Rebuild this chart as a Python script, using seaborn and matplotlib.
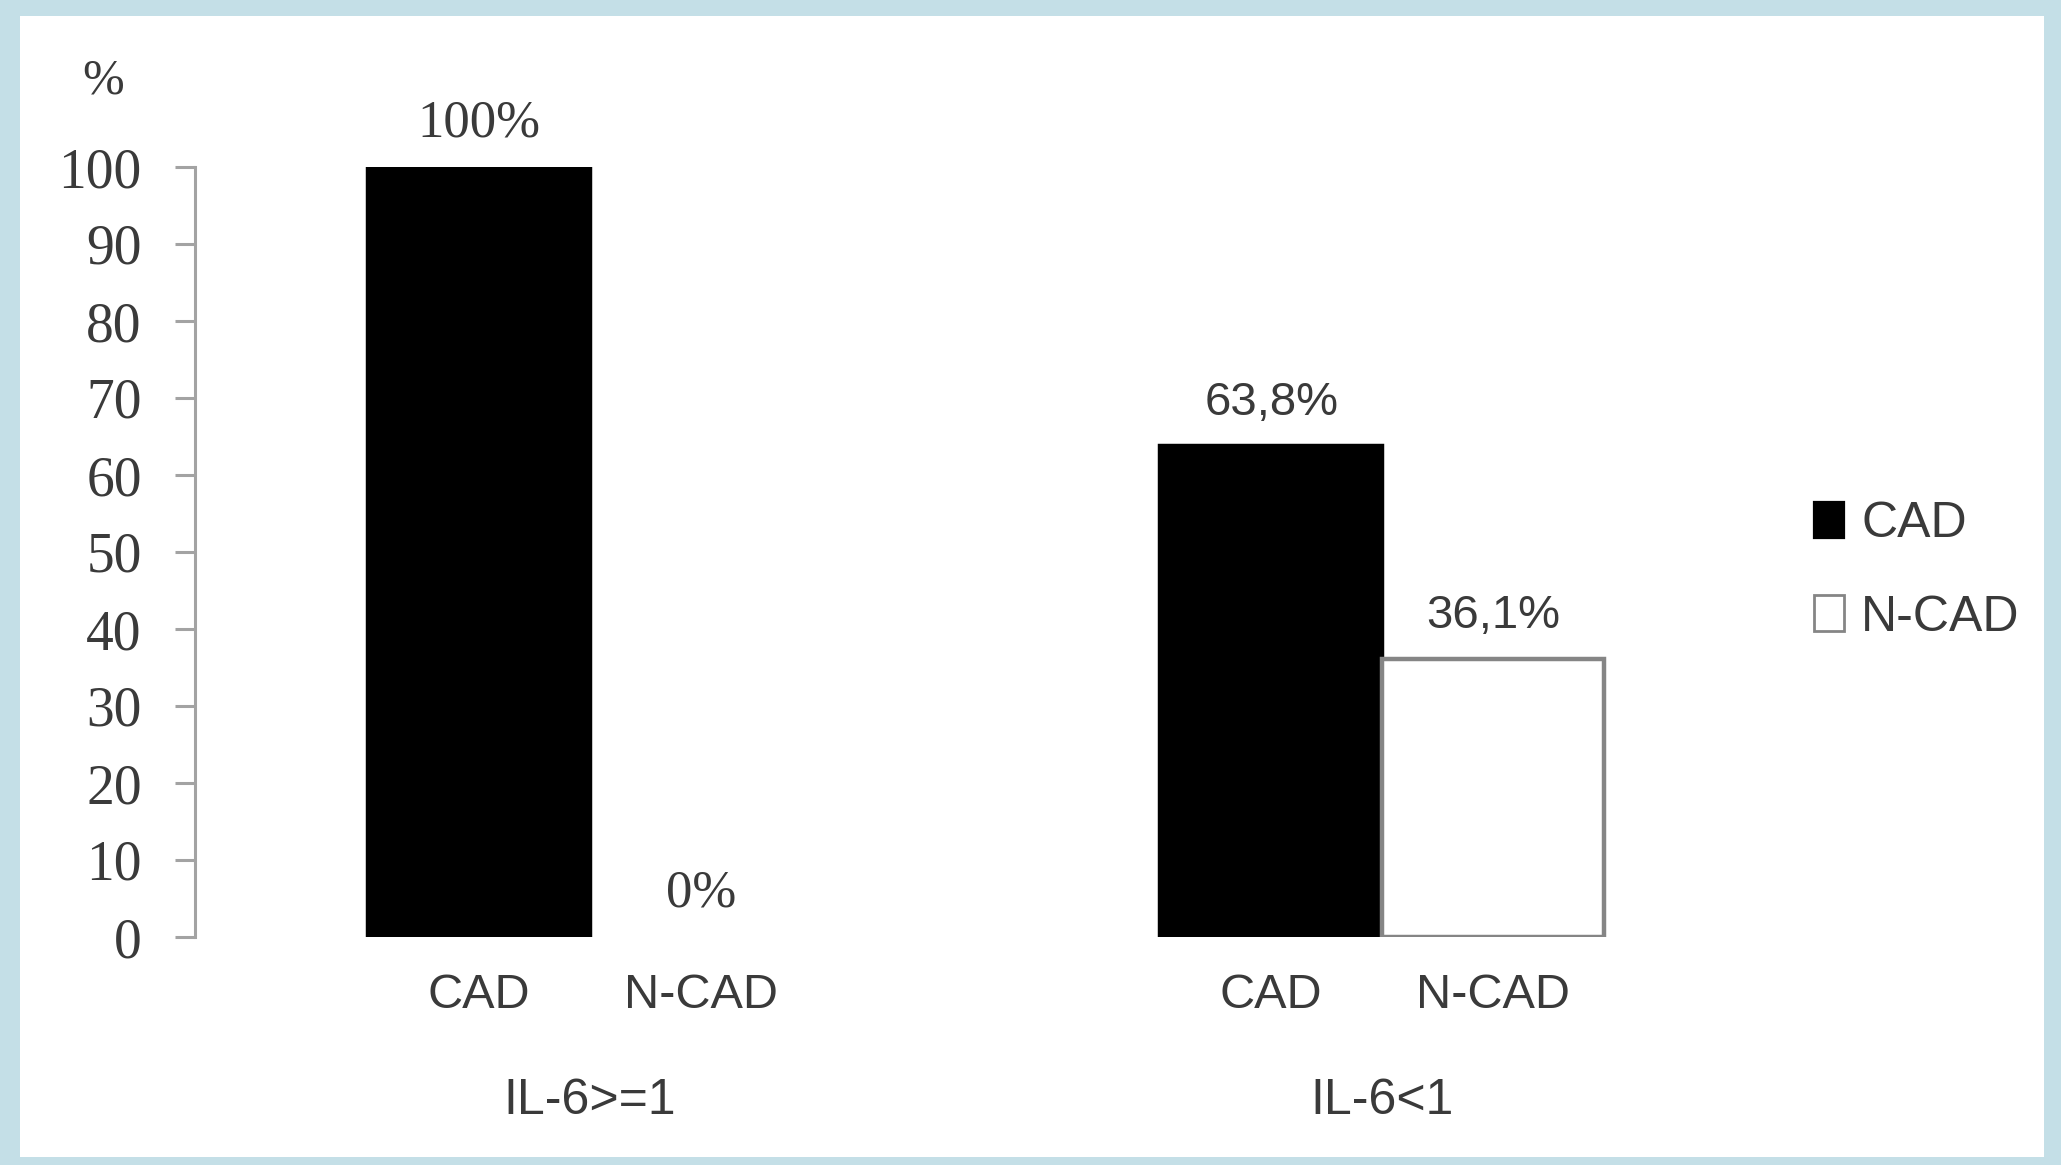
import matplotlib
matplotlib.use("Agg")
import matplotlib.pyplot as plt
from matplotlib.patches import Patch, Rectangle
import seaborn as sns
import pandas as pd

# Share of CAD / N-CAD patients in each IL-6 group (%)
groups = ["IL-6>=1", "IL-6<1"]
subgroups = ["CAD", "N-CAD"]
cad_pct = [100, 63.8]
ncad_pct = [0, 36.1]
y_ticks = [0, 10, 20, 30, 40, 50, 60, 70, 80, 90, 100]

df = pd.DataFrame({
    "group": groups * 2,
    "status": [subgroups[0]] * len(groups) + [subgroups[1]] * len(groups),
    "pct": cad_pct + ncad_pct,
})

sns.set_theme(style="white")
SERIF = ["Liberation Serif", "DejaVu Serif"]
SANS = ["Liberation Sans", "DejaVu Sans"]
TEXT = "#3a3a3a"
GRAY = "#858585"
AXIS_GRAY = "#a3a3a3"
BORDER = "#c4dfe7"

W, H, DPI = 2061, 1165, 200
fig = plt.figure(figsize=(W / DPI, H / DPI), dpi=DPI)
fig.patch.set_facecolor(BORDER)
# white panel inside the light-blue frame
fig.patches.append(Rectangle((20 / W, 1 - 1157 / H), (2044 - 20) / W, (1157 - 16) / H,
                             transform=fig.transFigure, facecolor="white",
                             edgecolor="none", zorder=-5))

ax = fig.add_axes([195 / W, 228 / H, (1700 - 195) / W, 770 / H])
ax.set_facecolor("none")

sns.barplot(data=df, x="group", y="pct", hue="status", order=groups,
            hue_order=subgroups, palette={"CAD": "black", "N-CAD": "white"},
            width=0.56, gap=0, legend=False, ax=ax, zorder=2)

edge = {"CAD": "black", "N-CAD": GRAY}
centers = []
for status, cont in zip(subgroups, ax.containers):
    for bar in cont:
        bar.set_edgecolor(edge[status])
        bar.set_linewidth(1.6 if bar.get_height() > 0 else 0)
        centers.append((bar.get_x() + bar.get_width() / 2, status, bar.get_height()))

def fmt(v):
    return f"{v:.0f}%" if float(v).is_integer() else f"{v:.1f}".replace(".", ",") + "%"

for x, status, h in centers:
    integer = float(h).is_integer()
    ax.annotate(fmt(h), (x, h), xytext=(0, 11), textcoords="offset points",
                ha="center", va="baseline", fontsize=19 if integer else 17,
                family=SERIF if integer else SANS, color=TEXT, annotation_clip=False)

ax.set_xlim(-0.499, 1.4015)
ax.set_ylim(0, 100)
ax.set_yticks(y_ticks)
ax.set_yticklabels([str(t) for t in y_ticks], family=SERIF, fontsize=20, color=TEXT)
ax.tick_params(axis="y", direction="out", length=7.2, width=1.1, color=AXIS_GRAY,
               pad=12, left=True)

centers.sort()
ax.set_xticks([c[0] for c in centers])
ax.set_xticklabels([c[1] for c in centers], family=SANS, fontsize=17.5, color=TEXT)
ax.tick_params(axis="x", length=0, pad=13)
ax.set_xlabel("")
ax.set_ylabel("")

for side in ["top", "right", "bottom"]:
    ax.spines[side].set_visible(False)
ax.spines["left"].set_color(AXIS_GRAY)
ax.spines["left"].set_linewidth(1.1)

# group names under the sub-category labels
for i, g in enumerate(groups):
    ax.text(i, -0.213, g, transform=ax.get_xaxis_transform(), ha="center",
            va="center", family=SANS, fontsize=18, color=TEXT)

fig.text(103 / W, 1 - 81 / H, "%", ha="center", va="center",
         family=SERIF, fontsize=18, color=TEXT)

handles = [Patch(facecolor="black", edgecolor="black", linewidth=0.8),
           Patch(facecolor="white", edgecolor=GRAY, linewidth=1.0)]
fig.legend(handles, subgroups, loc="center left",
           bbox_to_anchor=(1814 / W, 1 - 571 / H), bbox_transform=fig.transFigure,
           frameon=False, borderpad=0, borderaxespad=0, handlelength=0.6,
           handleheight=0.72, handletextpad=0.34, labelspacing=0.95,
           prop={"family": SANS, "size": 18}, labelcolor=TEXT)

fig.savefig("out.png", dpi=DPI, facecolor=fig.get_facecolor())
